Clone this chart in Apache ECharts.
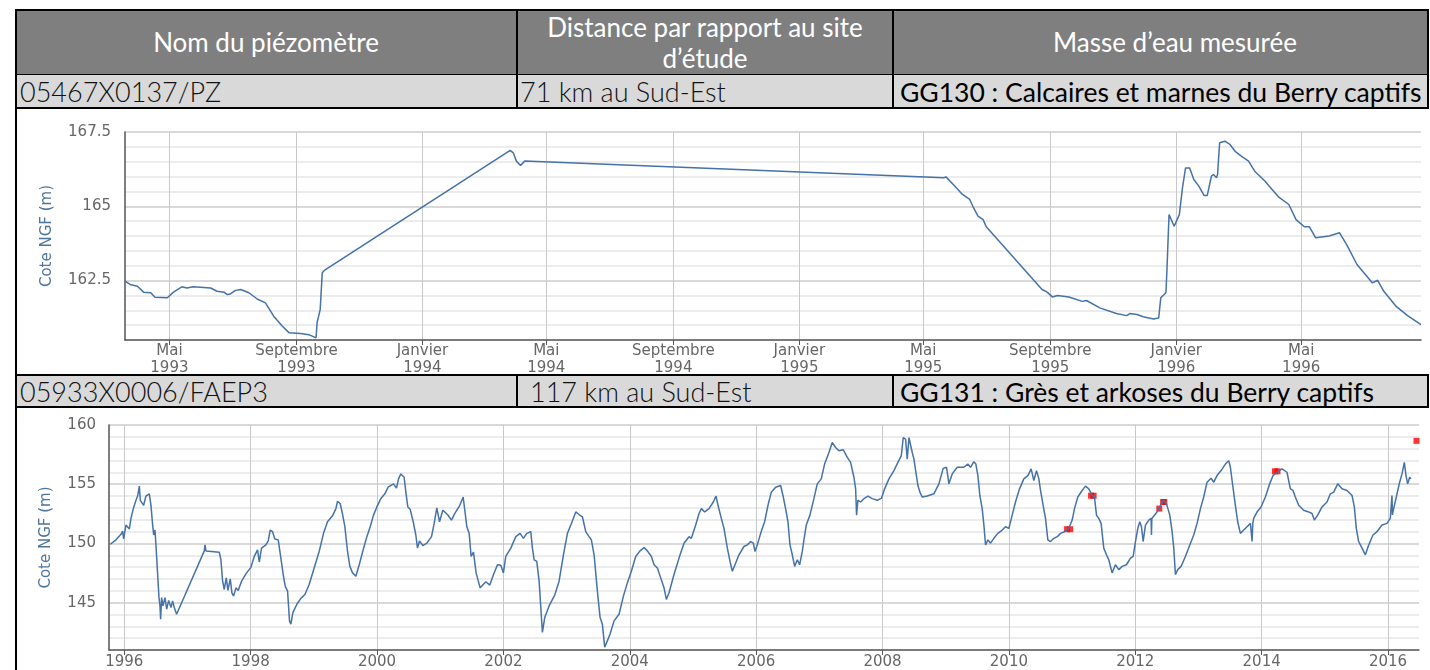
<!DOCTYPE html>
<html lang="fr">
<head>
<meta charset="UTF-8">
<title>Piézomètres</title>
<script src="https://cdn.jsdelivr.net/npm/echarts@6/dist/echarts.min.js"></script>
<style type="text/css">
    body { margin: 0; width: 1430px; height: 670px; overflow: hidden; background: #fff; font-family: Lato, "Open Sans", sans-serif; }
    #main { position: absolute; left: 0; top: 0; width: 1430px; height: 670px; }
    .c { position: absolute; box-sizing: border-box; display: flex; align-items: center; white-space: nowrap; overflow: hidden; }
    .h { background: #7f7f7f; color: #fff; justify-content: center; text-align: center; font-size: 26px; line-height: 31px; }
    .r { background: #d9d9d9; color: #111; font-size: 27px; font-weight: 300; }
    .b { font-weight: 400; color: #000; font-size: 26.5px; }
    .ln { position: absolute; background: #000; }
</style>
</head>
<body>
<div id="main"></div>

<!-- en-tête du tableau -->
<div class="c h" style="left:15px;top:10px;width:502px;height:65px;">Nom du piézomètre</div>
<div class="c h" style="left:517px;top:10px;width:376px;height:65px;">Distance par rapport au site<br>d’étude</div>
<div class="c h" style="left:893px;top:10px;width:536px;height:65px;padding-left:28px;">Masse d’eau mesurée</div>
<!-- ligne 1 -->
<div class="c r" style="left:15px;top:75px;width:502px;height:33px;padding-left:5px;">05467X0137/PZ</div>
<div class="c r" style="left:517px;top:75px;width:376px;height:33px;padding-left:3px;">71 km au Sud-Est</div>
<div class="c r b" style="left:893px;top:75px;width:536px;height:33px;padding-left:7px;">GG130 : Calcaires et marnes du Berry captifs</div>
<!-- ligne 2 -->
<div class="c r" style="left:15px;top:375px;width:502px;height:33px;padding-left:5px;">05933X0006/FAEP3</div>
<div class="c r" style="left:517px;top:375px;width:376px;height:33px;padding-left:13px;">117 km au Sud-Est</div>
<div class="c r b" style="left:893px;top:375px;width:536px;height:33px;padding-left:7px;">GG131 : Grès et arkoses du Berry captifs</div>

<!-- bordures -->
<div class="ln" style="left:15px;top:9px;width:1414px;height:2px;"></div>
<div class="ln" style="left:15px;top:9px;width:2px;height:661px;"></div>
<div class="ln" style="left:1427px;top:9px;width:2px;height:100px;"></div>
<div class="ln" style="left:15px;top:74px;width:1414px;height:1px;"></div>
<div class="ln" style="left:15px;top:107px;width:1414px;height:2px;"></div>
<div class="ln" style="left:516px;top:9px;width:2px;height:100px;"></div>
<div class="ln" style="left:892px;top:9px;width:2px;height:100px;"></div>
<div class="ln" style="left:15px;top:374px;width:1414px;height:2px;"></div>
<div class="ln" style="left:15px;top:406px;width:1414px;height:2px;"></div>
<div class="ln" style="left:1427px;top:374px;width:2px;height:34px;"></div>
<div class="ln" style="left:516px;top:374px;width:2px;height:34px;"></div>
<div class="ln" style="left:892px;top:374px;width:2px;height:34px;"></div>

<script type="text/javascript">
    // piézomètre 05467X0137/PZ (dates, cote NGF en m)
    var dates1 = [
        '1993-03-19', '1993-03-24', '1993-03-31', '1993-04-06', '1993-04-13', '1993-04-17', '1993-04-29', '1993-05-05',
        '1993-05-13', '1993-05-18', '1993-05-24', '1993-06-10', '1993-06-16', '1993-06-23', '1993-06-26', '1993-06-29',
        '1993-07-04', '1993-07-09', '1993-07-17', '1993-07-25', '1993-08-02', '1993-08-10', '1993-08-18', '1993-08-25',
        '1993-09-05', '1993-09-13', '1993-09-20', '1993-09-21', '1993-09-24', '1993-09-26', '1993-09-28',
        '1994-03-27', '1994-03-30', '1994-04-02', '1994-04-06', '1994-04-10',
        '1995-05-21', '1995-05-23', '1995-05-31', '1995-06-08', '1995-06-15', '1995-06-18', '1995-06-23', '1995-06-28', '1995-07-01',
        '1995-08-24', '1995-08-29', '1995-09-03', '1995-09-08', '1995-09-19', '1995-10-02', '1995-10-06', '1995-10-19',
        '1995-11-04', '1995-11-14', '1995-11-17', '1995-11-24', '1995-11-30', '1995-12-10', '1995-12-15', '1995-12-17',
        '1995-12-22', '1995-12-23', '1995-12-25', '1995-12-30',
        '1996-01-04', '1996-01-07', '1996-01-10', '1996-01-14', '1996-01-18', '1996-01-23', '1996-01-28', '1996-01-31',
        '1996-02-04', '1996-02-06', '1996-02-09', '1996-02-10', '1996-02-12', '1996-02-17', '1996-02-22', '1996-02-27',
        '1996-03-04', '1996-03-11', '1996-03-17', '1996-03-27', '1996-04-03', '1996-04-09', '1996-04-19', '1996-04-26',
        '1996-05-04', '1996-05-09', '1996-05-15', '1996-05-28', '1996-06-07', '1996-06-14', '1996-06-24', '1996-07-09',
        '1996-07-14', '1996-07-20', '1996-08-01', '1996-08-12', '1996-08-25'
    ];
    var levels1 = [
        162.48, 162.37, 162.31, 162.11, 162.09, 161.94, 161.92, 162.11,
        162.29, 162.25, 162.29, 162.25, 162.14, 162.11, 162.03, 162.05,
        162.17, 162.2, 162.09, 161.88, 161.75, 161.3, 160.98, 160.74,
        160.72, 160.68, 160.57, 161.08, 161.52, 162.76, 162.84,
        166.88, 166.8, 166.52, 166.37, 166.52,
        165.96, 165.99, 165.7, 165.4, 165.23, 165.0, 164.67, 164.55, 164.31,
        162.2, 162.11, 161.95, 162.0, 161.95, 161.8, 161.83, 161.58,
        161.39, 161.32, 161.39, 161.36, 161.28, 161.21, 161.24, 161.92,
        162.09, 162.87, 164.72, 164.33,
        164.72, 165.62, 166.29, 166.29, 165.9, 165.67, 165.36, 165.36,
        166.01, 166.07, 165.96, 166.07, 167.14, 167.19, 167.08, 166.85,
        166.69, 166.52, 166.18, 165.84, 165.56, 165.32, 165.06, 164.55,
        164.31, 164.31, 163.94, 164.0, 164.11, 163.71, 163.04, 162.42,
        162.51, 162.14, 161.63, 161.32, 161.02
    ];
    var ticks1 = ['1993-05-01', '1993-09-01', '1994-01-01', '1994-05-01', '1994-09-01', '1995-01-01', '1995-05-01', '1995-09-01', '1996-01-01', '1996-05-01'];
    var moisFr = ['Janvier', 'Février', 'Mars', 'Avril', 'Mai', 'Juin', 'Juillet', 'Août', 'Septembre', 'Octobre', 'Novembre', 'Décembre'];

    // piézomètre 05933X0006/FAEP3 (année décimale, cote NGF en m)
    var years2 = [
        1995.779, 1995.868, 1995.948, 1995.974, 1995.990, 1996.027, 1996.080, 1996.106, 1996.143, 1996.185,
        1996.211, 1996.238, 1996.254, 1996.280, 1996.306, 1996.343, 1996.396, 1996.422, 1996.449, 1996.465,
        1996.486, 1996.507, 1996.528, 1996.549, 1996.565, 1996.575, 1996.591, 1996.612, 1996.644, 1996.670,
        1996.702, 1996.739, 1996.765, 1996.791, 1996.828, 1997.266, 1997.277, 1997.292, 1997.503, 1997.529,
        1997.556, 1997.582, 1997.614, 1997.640, 1997.677, 1997.703, 1997.730, 1997.767, 1997.803, 1997.856,
        1997.935, 1998.004, 1998.057, 1998.109, 1998.136, 1998.172, 1998.241, 1998.278, 1998.309, 1998.346,
        1998.383, 1998.436, 1998.478, 1998.515, 1998.547, 1998.584, 1998.615, 1998.636, 1998.668, 1998.731,
        1998.795, 1998.858, 1998.926, 1999.005, 1999.084, 1999.153, 1999.216, 1999.295, 1999.349, 1999.375,
        1999.417, 1999.449, 1999.491, 1999.533, 1999.570, 1999.612, 1999.665, 1999.718, 1999.781, 1999.839,
        1999.892, 1999.944, 1999.997, 2000.060, 2000.123, 2000.176, 2000.261, 2000.308, 2000.340, 2000.377,
        2000.429, 2000.456, 2000.487, 2000.524, 2000.572, 2000.614, 2000.640, 2000.672, 2000.725, 2000.788,
        2000.862, 2000.904, 2000.946, 2000.989, 2001.041, 2001.115, 2001.178, 2001.231, 2001.310, 2001.363,
        2001.389, 2001.421, 2001.458, 2001.489, 2001.526, 2001.568, 2001.632, 2001.722, 2001.785, 2001.843,
        2001.906, 2001.959,
        2002.000, 2002.037, 2002.117, 2002.196, 2002.264, 2002.317, 2002.370, 2002.433, 2002.459, 2002.486,
        2002.528, 2002.565, 2002.591, 2002.617, 2002.654, 2002.723, 2002.776, 2002.812, 2002.881, 2002.950,
        2003.013, 2003.076, 2003.145, 2003.197, 2003.250, 2003.303, 2003.356, 2003.392, 2003.435, 2003.487,
        2003.530, 2003.566, 2003.603, 2003.646, 2003.688, 2003.751, 2003.830, 2003.899, 2003.962, 2004.025,
        2004.094, 2004.162, 2004.226, 2004.278, 2004.342, 2004.384, 2004.437, 2004.489, 2004.542, 2004.579,
        2004.621, 2004.700, 2004.779, 2004.858, 2004.937, 2004.974, 2005.043, 2005.096, 2005.133, 2005.185,
        2005.254, 2005.322, 2005.365, 2005.396, 2005.449, 2005.491, 2005.544, 2005.586, 2005.623, 2005.676,
        2005.728, 2005.807, 2005.860, 2005.913, 2005.955, 2005.981, 2006.018, 2006.071, 2006.134, 2006.187,
        2006.240, 2006.308, 2006.387, 2006.424, 2006.466, 2006.503, 2006.535, 2006.572, 2006.609, 2006.651,
        2006.688, 2006.730, 2006.756, 2006.793, 2006.851, 2006.914, 2006.967, 2007.030, 2007.083, 2007.152,
        2007.204, 2007.257, 2007.310, 2007.379, 2007.442, 2007.495, 2007.547, 2007.574, 2007.589, 2007.610,
        2007.653, 2007.705, 2007.769, 2007.837, 2007.916, 2007.985, 2008.033, 2008.101, 2008.180, 2008.243,
        2008.296, 2008.328, 2008.365, 2008.391, 2008.418, 2008.444, 2008.470, 2008.497, 2008.523, 2008.560,
        2008.591, 2008.628, 2008.707, 2008.813, 2008.892, 2008.960, 2009.013, 2009.050, 2009.103, 2009.182,
        2009.287, 2009.350, 2009.393, 2009.445, 2009.477, 2009.509, 2009.540, 2009.577, 2009.604, 2009.630,
        2009.667, 2009.709, 2009.762, 2009.825, 2009.894, 2009.946, 2009.999, 2010.052, 2010.104, 2010.168,
        2010.236, 2010.300, 2010.352, 2010.394, 2010.437, 2010.474, 2010.500, 2010.542, 2010.579, 2010.616,
        2010.658, 2010.711, 2010.764, 2010.817, 2010.879, 2010.948, 2011.001, 2011.038, 2011.090, 2011.159,
        2011.212, 2011.264, 2011.317, 2011.354, 2011.386, 2011.422, 2011.459, 2011.501, 2011.544, 2011.580,
        2011.633, 2011.686, 2011.739, 2011.792, 2011.860, 2011.924, 2011.966, 2012.003, 2012.040, 2012.071,
        2012.098, 2012.124, 2012.161, 2012.214, 2012.250, 2012.256, 2012.262, 2012.293, 2012.345, 2012.398,
        2012.440, 2012.493, 2012.546, 2012.583, 2012.609, 2012.635, 2012.672, 2012.725, 2012.793, 2012.862,
        2012.925, 2012.978, 2013.031, 2013.083, 2013.136, 2013.199, 2013.242, 2013.294, 2013.357, 2013.426,
        2013.479, 2013.505, 2013.542, 2013.584, 2013.621, 2013.663, 2013.716, 2013.769, 2013.822, 2013.848,
        2013.860, 2013.874, 2013.927, 2013.990, 2014.059, 2014.127, 2014.180, 2014.243, 2014.322, 2014.401,
        2014.454, 2014.496, 2014.533, 2014.586, 2014.665, 2014.744, 2014.797, 2014.834, 2014.887, 2014.955,
        2015.034, 2015.087, 2015.140, 2015.203, 2015.272, 2015.351, 2015.430, 2015.467, 2015.498, 2015.535,
        2015.588, 2015.641, 2015.694, 2015.762, 2015.825, 2015.904, 2015.983, 2016.036, 2016.062, 2016.070,
        2016.078, 2016.131, 2016.184, 2016.221, 2016.258, 2016.284, 2016.311, 2016.342, 2016.364
    ];
    var levels2 = [
        149.93, 150.30, 150.77, 151.05, 150.38, 151.55, 151.22, 152.11, 152.94, 153.64,
        154.00, 154.84, 153.64, 153.78, 153.22, 154.00, 154.19, 153.22, 151.55, 150.71,
        151.13, 149.32, 147.37, 145.42, 144.72, 143.61, 145.42, 144.72, 145.42, 144.44,
        145.19, 144.58, 145.14, 144.58, 144.02, 149.37, 149.88, 149.37, 149.26, 148.62,
        146.81, 146.11, 147.09, 146.03, 147.00, 145.83, 145.55, 146.25, 146.03, 146.81,
        147.51, 147.98, 148.90, 149.46, 148.43, 149.60, 149.88, 150.21, 151.13, 150.99,
        150.38, 150.30, 148.76, 147.37, 146.39, 145.97, 143.46, 143.18, 144.16, 144.86,
        145.36, 145.69, 146.53, 147.92, 149.32, 150.85, 151.83, 152.33, 152.94, 153.56,
        153.36, 152.61, 151.41, 149.32, 148.06, 147.51, 147.23, 148.20, 149.46, 150.57,
        151.41, 152.39, 153.08, 153.78, 154.19, 154.75, 155.03, 154.67, 155.45, 155.87,
        155.59, 154.33, 153.08, 152.89, 151.83, 150.71, 149.60, 150.21, 149.82, 150.02,
        150.57, 151.69, 153.00, 151.83, 152.80, 152.44, 151.97, 152.53, 153.22, 153.92,
        154.00, 151.41, 150.85, 148.90, 149.26, 147.51, 146.25, 146.76, 146.48, 147.37,
        148.20, 148.15,
        147.51, 148.90, 149.60, 150.57, 150.85, 150.43, 150.85, 150.99, 149.60, 148.62,
        148.48, 146.81, 146.95, 142.49, 143.74, 144.72, 145.27, 145.64, 146.81, 149.04,
        150.85, 151.69, 152.66, 152.44, 152.25, 150.99, 150.57, 150.30, 149.04, 145.97,
        143.74, 143.18, 141.23, 141.79, 142.35, 143.46, 144.02, 145.55, 146.67, 147.65,
        148.90, 149.37, 149.65, 149.37, 148.90, 148.20, 147.92, 147.09, 146.25, 145.27,
        145.83, 147.37, 148.76, 150.02, 150.57, 150.43, 151.55, 152.53, 152.94, 152.66,
        152.94, 153.50, 154.00, 153.22, 152.11, 151.27, 149.60, 148.48, 147.65, 148.34,
        149.04, 149.74, 149.88, 150.16, 150.02, 149.32, 149.88, 150.85, 151.83, 153.22,
        154.33, 154.75, 154.89, 154.05, 152.94, 151.83, 149.88, 149.04, 148.06, 148.62,
        148.20, 149.32, 150.30, 151.55, 152.39, 153.78, 155.03, 155.45, 156.70, 157.68,
        158.52, 158.10, 157.82, 157.91, 157.26, 156.84, 155.59, 154.61, 152.39, 153.64,
        153.50, 153.78, 154.00, 153.78, 153.64, 153.83, 154.61, 155.45, 156.15, 156.84,
        157.40, 158.94, 158.80, 157.12, 158.94, 158.80, 157.68, 157.12, 156.98, 154.89,
        154.33, 153.92, 154.00, 154.19, 155.03, 156.34, 156.43, 155.03, 155.87, 156.43,
        156.43, 156.70, 156.43, 156.90, 156.70, 155.73, 154.05, 152.94, 151.55, 149.87,
        150.30, 150.02, 150.43, 150.85, 151.13, 151.41, 151.27, 152.39, 153.50, 154.61,
        155.45, 155.73, 156.29, 155.31, 156.15, 155.45, 154.47, 153.22, 152.11, 150.30,
        150.16, 150.43, 150.57, 150.85, 150.99, 151.27, 151.97, 152.94, 153.92, 154.47,
        154.84, 154.61, 154.05, 153.92, 152.39, 152.11, 151.69, 149.60, 149.04, 148.62,
        147.51, 148.20, 147.79, 148.06, 148.20, 148.76, 148.90, 150.16, 151.27, 151.83,
        151.41, 150.16, 151.55, 151.97, 152.11, 150.71, 152.11, 152.25, 152.66, 153.22,
        153.64, 153.36, 152.39, 150.99, 149.60, 147.37, 147.79, 148.06, 148.90, 149.87,
        150.71, 151.69, 152.94, 153.92, 155.17, 155.50, 155.17, 155.73, 156.15, 156.70,
        156.98, 156.43, 154.89, 153.22, 151.83, 150.85, 151.13, 151.41, 151.69, 150.16,
        151.69, 152.11, 152.66, 153.08, 153.92, 155.03, 155.73, 156.01, 156.29, 156.01,
        154.61, 154.47, 153.92, 153.22, 152.80, 152.66, 152.53, 151.97, 152.39, 153.08,
        153.50, 154.19, 154.33, 155.03, 154.61, 154.47, 154.05, 153.08, 151.27, 150.16,
        149.60, 149.04, 149.87, 150.71, 150.99, 151.55, 151.69, 152.11, 154.05, 152.40,
        152.66, 153.92, 155.17, 155.87, 156.84, 155.73, 155.03, 155.59, 155.45
    ];
    // mesures ponctuelles (carrés rouges)
    var redYears = [2010.92, 2010.97, 2011.30, 2011.34, 2012.38, 2012.44, 2012.46, 2014.21, 2014.25, 2016.45];
    var redLevels = [151.2, 151.2, 154.03, 154.03, 152.94, 153.5, 153.5, 156.09, 156.09, 158.66];
    var yearTicks = [1996, 1998, 2000, 2002, 2004, 2006, 2008, 2010, 2012, 2014, 2016];

    function ts(s) { return new Date(s + 'T00:00:00Z').getTime(); }

    var serie1 = dates1.map(function (d, i) { return [ts(d), levels1[i]]; });
    var serie2 = years2.map(function (y, i) { return [y, levels2[i]]; });
    var rouges = redYears.map(function (y, i) { return [y, redLevels[i]]; });

    var minor = '#e6e6e6', major = '#cccccc';
    var axisFont = { color: '#666', fontSize: 15, fontFamily: 'DejaVu Sans' };
    var nameFont = { color: '#4d759e', fontSize: 15, fontFamily: 'DejaVu Sans' };

    function yLabel(step) {
        return function (v) {
            return Math.abs(Math.round(v / step) * step - v) < 1e-6 ? String(+v.toFixed(1)) : '';
        };
    }

    var myChart = echarts.init(document.getElementById('main'));
    var option = {
        animation: false,
        grid: [
            { left: 125, top: 132, width: 1296, height: 208 },
            { left: 109, top: 425, width: 1310, height: 227 }
        ],
        xAxis: [{
            type: 'value', gridIndex: 0,
            min: ts('1993-03-19'), max: ts('1996-08-25'),
            axisLine: { onZero: false, lineStyle: { color: '#555', width: 1.5 } },
            axisTick: { show: true, customValues: ticks1.map(ts), length: 5, lineStyle: { color: '#555' } },
            axisLabel: Object.assign({
                customValues: ticks1.map(ts), margin: 3, lineHeight: 17,
                formatter: function (v) { var d = new Date(v); return moisFr[d.getUTCMonth()] + '\n' + d.getUTCFullYear(); }
            }, axisFont),
            splitLine: { show: true, lineStyle: { color: '#c8c8c8' } }
        }, {
            type: 'value', gridIndex: 1,
            min: 1995.758, max: 2016.49,
            axisLine: { onZero: false, lineStyle: { color: '#555', width: 1.5 } },
            axisTick: { show: true, customValues: yearTicks, length: 5, lineStyle: { color: '#555' } },
            axisLabel: Object.assign({ customValues: yearTicks, margin: 5, formatter: function (v) { return String(v); } }, axisFont),
            splitLine: { show: true, lineStyle: { color: '#c8c8c8' } }
        }],
        yAxis: [{
            type: 'value', gridIndex: 0,
            min: 160.5, max: 167.5, interval: 0.5,
            name: 'Cote NGF (m)', nameLocation: 'middle', nameGap: 70, nameTextStyle: nameFont,
            axisLine: { show: true, onZero: false, lineStyle: { color: '#555', width: 1.5 } },
            axisTick: { show: false },
            axisLabel: Object.assign({ margin: 14, formatter: yLabel(2.5) }, axisFont),
            splitLine: { show: true, lineStyle: { color: [minor, minor, minor, minor, major], width: 1.5 } }
        }, {
            type: 'value', gridIndex: 1,
            min: 141, max: 160, interval: 1,
            name: 'Cote NGF (m)', nameLocation: 'middle', nameGap: 55, nameTextStyle: nameFont,
            axisLine: { show: true, onZero: false, lineStyle: { color: '#555', width: 1.5 } },
            axisTick: { show: false },
            axisLabel: Object.assign({ margin: 13, formatter: yLabel(5) }, axisFont),
            splitLine: { show: true, lineStyle: { color: [minor, minor, minor, minor, major], width: 1.5 } }
        }],
        series: [{
            type: 'line', xAxisIndex: 0, yAxisIndex: 0,
            data: serie1, showSymbol: false, silent: true,
            lineStyle: { color: '#4572a7', width: 1.5 }
        }, {
            type: 'line', xAxisIndex: 1, yAxisIndex: 1,
            data: serie2, showSymbol: false, silent: true,
            lineStyle: { color: '#4572a7', width: 1.5 }
        }, {
            type: 'scatter', xAxisIndex: 1, yAxisIndex: 1,
            data: rouges, symbol: 'rect', symbolSize: [6, 6],
            itemStyle: { color: '#ff0000' }
        }]
    };
    myChart.setOption(option);
</script>
</body>
</html>
